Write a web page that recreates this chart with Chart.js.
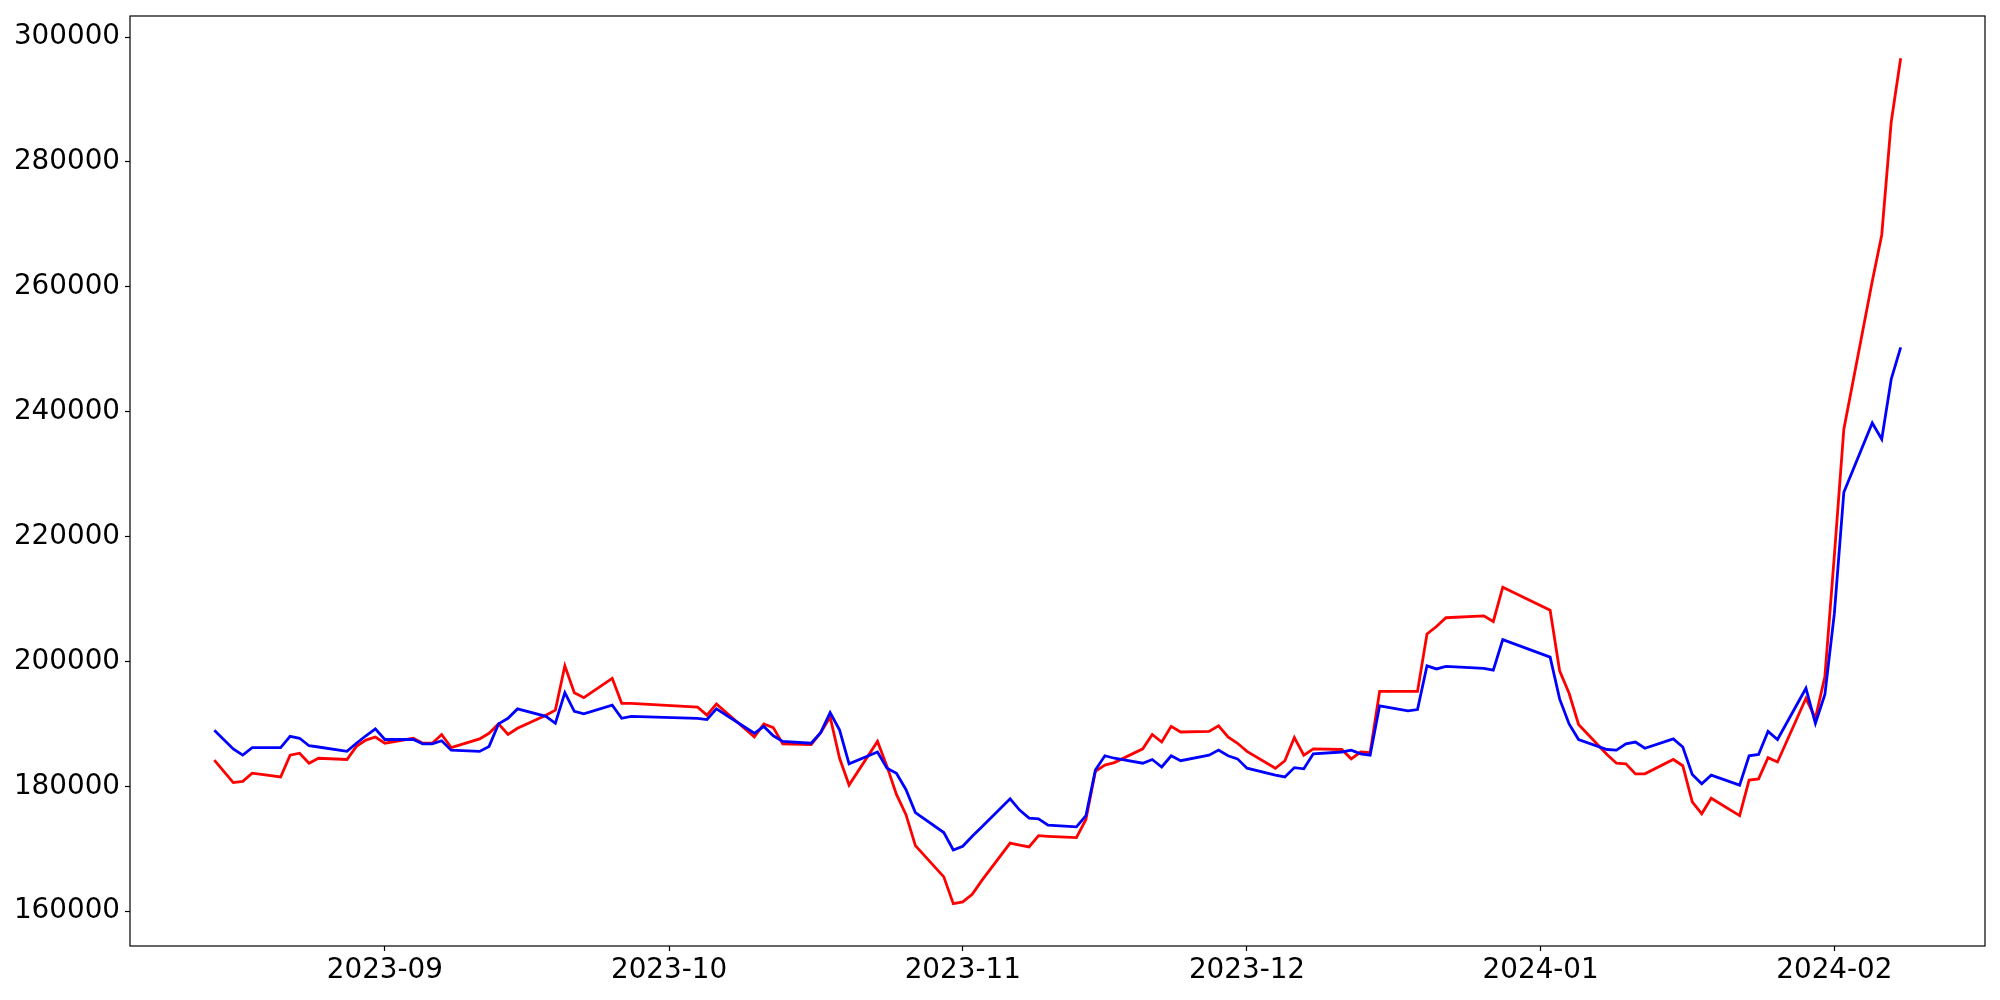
<!DOCTYPE html>
<html>
<head>
<meta charset="utf-8">
<script src="https://cdn.jsdelivr.net/npm/chart.js@4/dist/chart.umd.min.js"></script>
<style>
  html, body { margin: 0; padding: 0; background: #fff; }
  #wrap { width: 2000px; height: 1000px; }
</style>
</head>
<body>
<div id="wrap"><canvas id="lineChart" width="2000" height="1000"></canvas></div>
<script>
// trading days (no weekends / KRX holidays)
const dates = [
  '2023-08-14','2023-08-16','2023-08-17','2023-08-18','2023-08-21','2023-08-22','2023-08-23','2023-08-24','2023-08-25',
  '2023-08-28','2023-08-29','2023-08-30','2023-08-31','2023-09-01','2023-09-04','2023-09-05','2023-09-06','2023-09-07',
  '2023-09-08','2023-09-11','2023-09-12','2023-09-13','2023-09-14','2023-09-15','2023-09-18','2023-09-19','2023-09-20',
  '2023-09-21','2023-09-22','2023-09-25','2023-09-26','2023-09-27','2023-10-04','2023-10-05','2023-10-06','2023-10-10',
  '2023-10-11','2023-10-12','2023-10-13','2023-10-16','2023-10-17','2023-10-18','2023-10-19','2023-10-20','2023-10-23',
  '2023-10-24','2023-10-25','2023-10-26','2023-10-27','2023-10-30','2023-10-31','2023-11-01','2023-11-02','2023-11-03',
  '2023-11-06','2023-11-07','2023-11-08','2023-11-09','2023-11-10','2023-11-13','2023-11-14','2023-11-15','2023-11-16',
  '2023-11-17','2023-11-20','2023-11-21','2023-11-22','2023-11-23','2023-11-24','2023-11-27','2023-11-28','2023-11-29',
  '2023-11-30','2023-12-01','2023-12-04','2023-12-05','2023-12-06','2023-12-07','2023-12-08','2023-12-11','2023-12-12',
  '2023-12-13','2023-12-14','2023-12-15','2023-12-18','2023-12-19','2023-12-20','2023-12-21','2023-12-22','2023-12-26',
  '2023-12-27','2023-12-28','2024-01-02','2024-01-03','2024-01-04','2024-01-05','2024-01-08','2024-01-09','2024-01-10',
  '2024-01-11','2024-01-12','2024-01-15','2024-01-16','2024-01-17','2024-01-18','2024-01-19','2024-01-22','2024-01-23',
  '2024-01-24','2024-01-25','2024-01-26','2024-01-29','2024-01-30','2024-01-31','2024-02-01','2024-02-02','2024-02-05',
  '2024-02-06','2024-02-07','2024-02-08'
];

const redValues = [
  184200, 180600, 180800, 182100, 181500, 185000, 185300, 183700, 184500,
  184300, 186400, 187400, 187900, 186900, 187700, 186900, 186900, 188300,
  186200, 187600, 188500, 190000, 188300, 189300, 191400, 192200, 199300,
  195000, 194200, 197300, 193300, 193300, 192700, 191400, 193200, 187900,
  190000, 189400, 186800, 186700, 188600, 191100, 184500, 180200, 187200,
  183200, 178700, 175500, 170500, 165500, 161200, 161500, 162700, 164900,
  170900, 170600, 170300, 172100, 172000, 171800, 174700, 182400, 183400,
  183800, 186000, 188300, 187100, 189600, 188700, 188800, 189700, 187900,
  186900, 185600, 182900, 184100, 187800, 185000, 186000, 185900, 184400,
  185500, 185400, 195200, 195200, 195200, 204400, 205600, 207000, 207300,
  206400, 211900, 208200, 198500, 194900, 189900, 185100, 183700, 183600,
  182000, 182000, 184300, 183300, 177500, 175600, 178100, 175300, 181000,
  181200, 184600, 183900, 194100, 190900, 197600, 217000, 237200, 260900,
  268300, 286400, 296600
];

const blueValues = [
  189000, 186000, 185000, 186200, 186200, 188000, 187700, 186500, 186300,
  185600, 186900, 188100, 189200, 187500, 187500, 186800, 186800, 187300,
  185800, 185600, 186400, 190000, 190900, 192400, 191200, 190100, 195000,
  192000, 191600, 193000, 190900, 191200, 190900, 190700, 192400, 188500,
  189600, 188100, 187200, 186900, 188600, 191800, 189000, 183600, 185500,
  182900, 182100, 179500, 175800, 172600, 169800, 170400, 172000, 173500,
  178000, 176200, 174900, 174800, 173800, 173500, 175300, 182600, 184900,
  184500, 183700, 184300, 183100, 184900, 184100, 185000, 185800, 184900,
  184400, 182900, 181800, 181500, 183000, 182800, 185200, 185500, 185800,
  185200, 185000, 192900, 192100, 192300, 199300, 198800, 199200, 198900,
  198600, 203500, 200700, 194000, 190000, 187500, 185900, 185800, 186800,
  187100, 186100, 187600, 186300, 181900, 180400, 181800, 180200, 184900,
  185100, 188800, 187500, 195700, 190100, 194700, 207700, 227100, 238200,
  235600, 245200, 250300
];

const monthTicks = ['2023-09','2023-10','2023-11','2023-12','2024-01','2024-02'];
const yTicks = [160000, 180000, 200000, 220000, 240000, 260000, 280000, 300000];

const toTime = s => Date.parse(s + (s.length === 7 ? '-01' : '') + 'T00:00:00Z');
const times = dates.map(toTime);
const monthTimes = monthTicks.map(toTime);

// matplotlib-style 5% margins
const xSpan = times[times.length - 1] - times[0];
const xMin = times[0] - xSpan * 0.05;
const xMax = times[times.length - 1] + xSpan * 0.05;
const allY = redValues.concat(blueValues);
const yLo = Math.min(...allY), yHi = Math.max(...allY);
const yMin = yLo - (yHi - yLo) * 0.05;
const yMax = yHi + (yHi - yLo) * 0.05;

const font = { family: 'DejaVu Sans', size: 27.8 };

const frame = {
  id: 'frame',
  afterDraw(chart) {
    const { ctx, chartArea: a } = chart;
    ctx.save();
    ctx.strokeStyle = '#000';
    ctx.lineWidth = 1.2;
    ctx.strokeRect(a.left, a.top, a.right - a.left, a.bottom - a.top);
    ctx.restore();
  }
};

const whiteBg = {
  id: 'whiteBg',
  beforeDraw(chart) {
    const { ctx } = chart;
    ctx.save();
    ctx.fillStyle = '#fff';
    ctx.fillRect(0, 0, chart.width, chart.height);
    ctx.restore();
  }
};

new Chart(document.getElementById('lineChart').getContext('2d'), {
  type: 'line',
  data: {
    datasets: [
      {
        label: 'red',
        data: times.map((t, i) => ({ x: t, y: redValues[i] })),
        borderColor: '#ff0000',
        borderWidth: 2.8,
        pointRadius: 0,
        tension: 0,
        fill: false,
        order: 2
      },
      {
        label: 'blue',
        data: times.map((t, i) => ({ x: t, y: blueValues[i] })),
        borderColor: '#0000ff',
        borderWidth: 2.8,
        pointRadius: 0,
        tension: 0,
        fill: false,
        order: 1
      }
    ]
  },
  options: {
    responsive: false,
    animation: false,
    layout: { padding: { top: 16, right: 15, left: 0, bottom: 0 } },
    plugins: { legend: { display: false }, tooltip: { enabled: false } },
    scales: {
      x: {
        type: 'linear',
        min: xMin,
        max: xMax,
        afterBuildTicks: scale => { scale.ticks = monthTimes.map(v => ({ value: v })); },
        afterFit: scale => { scale.height = 54; scale.paddingLeft = 0; scale.paddingRight = 0; },
        grid: { drawOnChartArea: false, drawTicks: true, tickLength: 5, color: '#000', tickWidth: 1.2 },
        border: { display: false },
        ticks: {
          color: '#000',
          font,
          padding: 3,
          maxRotation: 0,
          autoSkip: false,
          callback: v => monthTicks[monthTimes.indexOf(v)] || ''
        }
      },
      y: {
        min: yMin,
        max: yMax,
        afterBuildTicks: scale => { scale.ticks = yTicks.map(v => ({ value: v })); },
        afterFit: scale => { scale.width = 130; scale.paddingTop = 0; scale.paddingBottom = 0; },
        grid: { drawOnChartArea: false, drawTicks: true, tickLength: 5, color: '#000', tickWidth: 1.2 },
        border: { display: false },
        ticks: {
          color: '#000',
          font,
          padding: 5,
          autoSkip: false,
          callback: v => String(v)
        }
      }
    }
  },
  plugins: [whiteBg, frame]
});
</script>
</body>
</html>
